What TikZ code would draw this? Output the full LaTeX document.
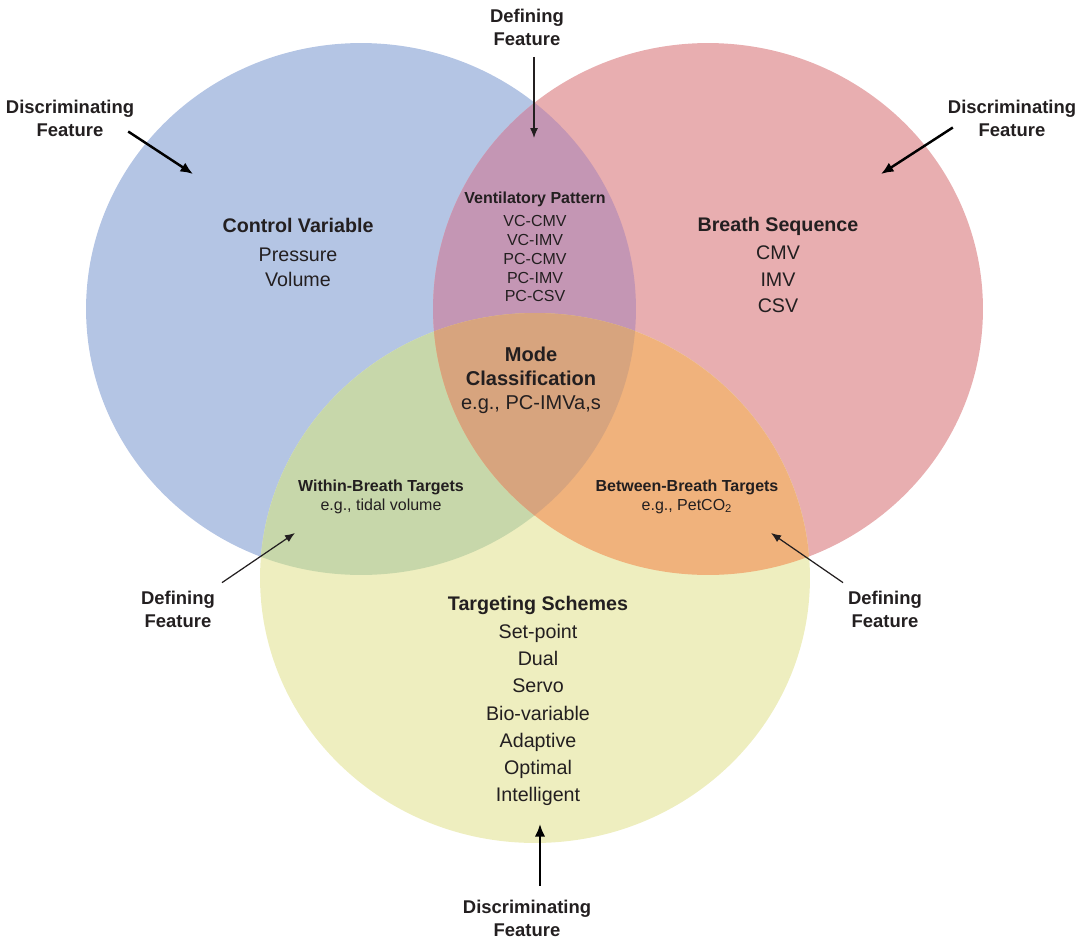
\documentclass[tikz,border=0pt]{standalone}
\usepackage{fontspec}
\setmainfont{Liberation Sans}
\usetikzlibrary{arrows.meta}

\definecolor{ctrlblue}{HTML}{B4C5E4}
\definecolor{seqred}{HTML}{E8AEB0}
\definecolor{tgtyellow}{HTML}{EEEEBF}
\definecolor{patmauve}{HTML}{C496B4}
\definecolor{withingreen}{HTML}{C7D7AA}
\definecolor{betweenorange}{HTML}{F0B27C}
\definecolor{modetan}{HTML}{D7A47E}
\definecolor{inkgray}{HTML}{231F20}

\tikzset{
  feature/.style={font=\fontsize{10.5}{13.1}\selectfont\bfseries, align=center, inner sep=1pt, text=inkgray},
  setlabel/.style={font=\fontsize{11.2}{13.7}\selectfont, align=center, text=inkgray},
  subset/.style={font=\fontsize{9.1}{10.7}\selectfont, align=center, text=inkgray},
  thinarrow/.style={-{Latex[length=2mm, width=1.6mm]}, line width=0.7pt, draw=inkgray},
  boldarrow/.style={-{Latex[length=2.5mm, width=2.1mm]}, line width=1.4pt, draw=black}
}

\begin{document}
\begin{tikzpicture}[x=0.02cm, y=-0.02cm]
  \useasboundingbox (0,0) rectangle (1087,940);

  % The three sets
  \fill[ctrlblue] (361,309) ellipse [x radius=5.5cm, y radius=5.32cm];
  \fill[seqred] (708,309) ellipse [x radius=5.5cm, y radius=5.32cm];
  \fill[tgtyellow] (535,578) ellipse [x radius=5.5cm, y radius=5.3cm];

  % Overlaps with the control variable set
  \begin{scope}
    \clip (361,309) ellipse [x radius=5.5cm, y radius=5.32cm];
    \fill[patmauve] (708,309) ellipse [x radius=5.5cm, y radius=5.32cm];
    \fill[withingreen] (535,578) ellipse [x radius=5.5cm, y radius=5.3cm];
  \end{scope}

  % Overlaps with the breath sequence set
  \begin{scope}
    \clip (708,309) ellipse [x radius=5.5cm, y radius=5.32cm];
    \fill[betweenorange] (535,578) ellipse [x radius=5.5cm, y radius=5.3cm];
    \clip (361,309) ellipse [x radius=5.5cm, y radius=5.32cm];
    \fill[modetan] (535,578) ellipse [x radius=5.5cm, y radius=5.3cm];
  \end{scope}

  % Set contents
  \node[setlabel] (ctrl) at (298,252) {\textbf{Control Variable}\\[3.3pt] Pressure\\ Volume};
  \node[setlabel, font=\fontsize{11.2}{15.1}\selectfont] (seq) at (778,265) {\textbf{Breath Sequence}\\[0.8pt] CMV\\ IMV\\ CSV};
  \node[setlabel, font=\fontsize{11.2}{15.5}\selectfont] (tgt) at (538,701) {\textbf{Targeting Schemes}\\[0.4pt] Set-point\\ Dual\\ Servo\\ Bio-variable\\ Adaptive\\ Optimal\\ Intelligent};

  % Intersections
  \node[subset] (pattern) at (535,247) {\textbf{Ventilatory Pattern}\\[2.4pt] VC-CMV\\ VC-IMV\\ PC-CMV\\ PC-IMV\\ PC-CSV};
  \node[setlabel, font=\fontsize{11.4}{13.7}\selectfont] (mode) at (531,380) {\textbf{Mode}\\ \textbf{Classification}\\ e.g., PC-IMVa,s};
  \node[subset] (within) at (381,497) {\textbf{Within-Breath Targets}\\ e.g., tidal volume};
  \node[subset] (between) at (687,497) {\textbf{Between-Breath Targets}\\ e.g., PetCO\textsubscript{2}};

  % Feature labels
  \node[feature] (deftop) at (527,27.5) {Defining\\ Feature};
  \node[feature] (discL) at (70,118.5) {Discriminating\\ Feature};
  \node[feature] (discR) at (1012,118.5) {Discriminating\\ Feature};
  \node[feature] (defL) at (178,609) {Defining\\ Feature};
  \node[feature] (defR) at (885,609) {Defining\\ Feature};
  \node[feature] (discB) at (527,918) {Discriminating\\ Feature};

  % Arrow tips
  \coordinate (tipTop) at (534,138);
  \coordinate (tipCtrl) at (193,174);
  \coordinate (tipSeq) at (881,174);
  \coordinate (tipWithin) at (295,533);
  \coordinate (tipBetween) at (771,533);
  \coordinate (tipTgt) at (540,824);

  % Arrows
  \draw[thinarrow, shorten <=0.18cm] (deftop.south -| tipTop) -- (tipTop);
  \draw[boldarrow] ([xshift=-0.16cm, yshift=-0.26cm]discL.east) -- (tipCtrl);
  \draw[boldarrow] ([xshift=0.14cm, yshift=-0.18cm]discR.west) -- (tipSeq);
  \draw[thinarrow] ([xshift=0.1cm, yshift=0.12cm]defL.north east) -- (tipWithin);
  \draw[thinarrow] ([xshift=-0.06cm, yshift=0.12cm]defR.north west) -- (tipBetween);
  \draw[boldarrow, shorten <=0.24cm] (discB.north -| tipTgt) -- (tipTgt);
\end{tikzpicture}
\end{document}
